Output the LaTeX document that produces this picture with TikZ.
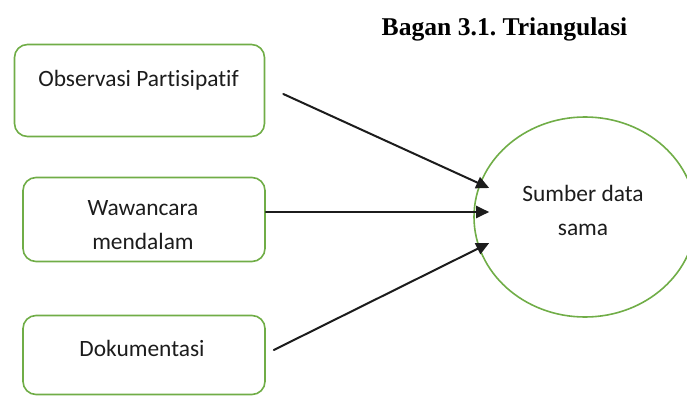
\documentclass[tikz,border=0pt]{standalone}
\usepackage{fontspec}
\setmainfont{Carlito}[Ligatures=NoCommon]
\newfontfamily\judulfont{Liberation Serif}
\usetikzlibrary{calc,arrows.meta,shapes.geometric}
\definecolor{hijau}{HTML}{70AD47}
\definecolor{hitam}{HTML}{1C1C1C}
\frenchspacing

\begin{document}
\begin{tikzpicture}[x=1pt,y=-1pt,>={Triangle[length=13pt,width=12pt]},line cap=round,
    kotak/.style={draw=hijau,line width=1.6pt,rounded corners=13pt,inner sep=0pt},
    bulat/.style={ellipse,draw=hijau,line width=1.6pt,inner sep=0pt,
                  minimum width=222pt,minimum height=200pt},
    teks/.style={text=hitam,align=center,inner sep=0pt,
                 font=\fontsize{23.4}{34}\selectfont},
    judul/.style={text=black,inner sep=0pt,
                  font=\judulfont\bfseries\fontsize{25.6}{30}\selectfont},
    panah/.style={->,hitam,line width=2pt}]
  \useasboundingbox (0,0) rectangle (687,398);
  \clip (0,0) rectangle (687,398);
  \node[judul,anchor=base] (judul) at (504.5,36) {Bagan 3.1. Triangulasi};
  % kotak sumber
  \node[kotak,minimum width=250pt,minimum height=92pt] (obs) at (139.5,90.5) {};
  \node[teks,anchor=base] (obs-t) at (138.5,87) {Observasi Partisipatif};
  \node[kotak,minimum width=242pt,minimum height=84pt] (waw) at (144,219.5) {};
  \node[teks,anchor=base] (waw-t) at (143,249) {Wawancara\\mendalam};
  \node[kotak,minimum width=242pt,minimum height=79pt] (dok) at (144,355) {};
  \node[teks,anchor=base] (dok-t) at (142,356) {Dokumentasi};
  % lingkaran
  \node[bulat] (sumber) at (585,217) {};
  \node[teks,anchor=base] (sumber-t) at (583,235) {Sumber data\\sama};
  % panah
  \coordinate (obs-out) at ($(obs.east)+(18,3.5)$);
  \coordinate (waw-out) at ($(waw.east)+(0,-7.5)$);
  \coordinate (dok-out) at ($(dok.east)+(8,-5)$);
  \coordinate (masuk1) at ($(sumber.west)+(16,-29)$);
  \coordinate (masuk2) at ($(sumber.west)+(16,-5)$);
  \coordinate (masuk3) at ($(sumber.west)+(16,26)$);
  \draw[panah] (obs-out) -- (masuk1);
  \draw[panah] (waw-out) -- (masuk2);
  \draw[panah] (dok-out) -- (masuk3);
\end{tikzpicture}
\end{document}
